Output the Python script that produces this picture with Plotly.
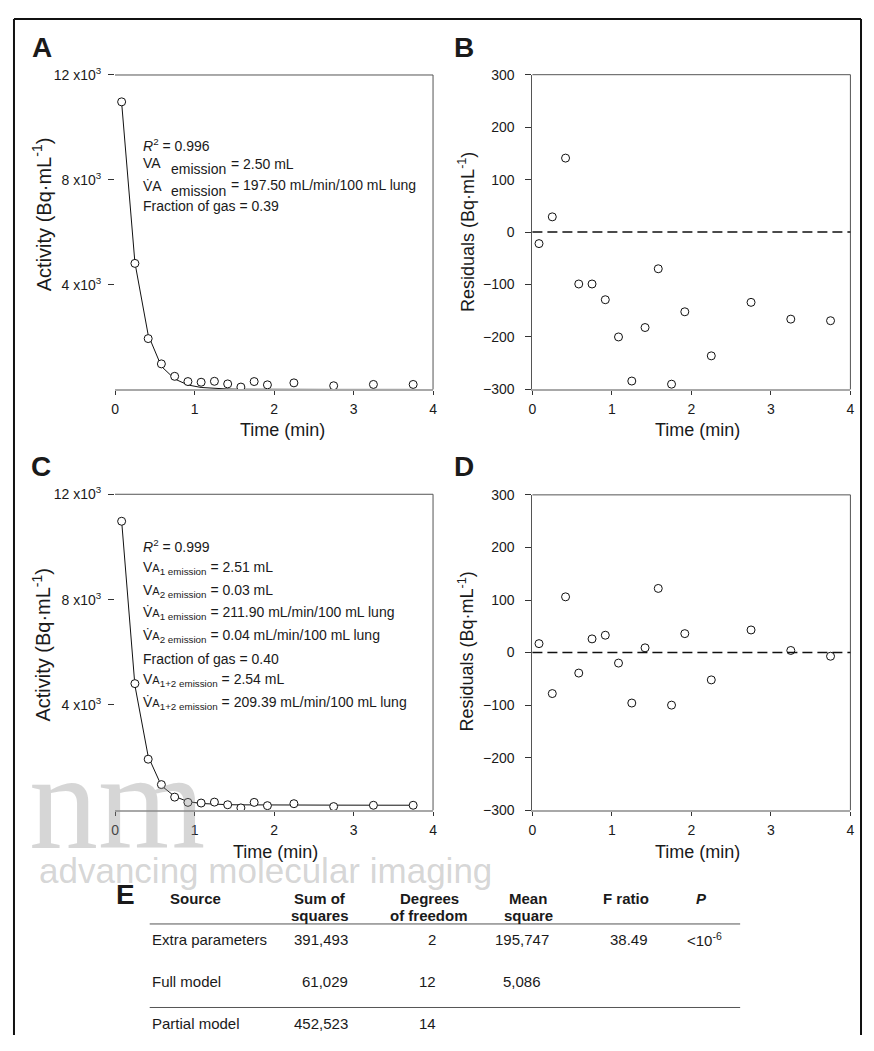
import plotly.graph_objects as go

# The page body keeps its default 8px margin, so the figure is made 16px
# smaller than the window and reference-pixel positions are shifted by it.
PAGE_W, PAGE_H = 874, 1051
OFF = 8
W, H = PAGE_W - 2 * OFF, PAGE_H - 2 * OFF
FONT = "Liberation Sans, Arial, sans-serif"
TXT = "#1a1a1a"

# ---------------- data ----------------
time_min = [0.083, 0.25, 0.417, 0.583, 0.75, 0.917, 1.083, 1.25, 1.417, 1.583,
            1.75, 1.917, 2.25, 2.75, 3.25, 3.75]
activity = [10975, 4810, 1940, 975, 500, 300, 275, 310, 210, 90,
            300, 175, 250, 140, 190, 190]
fit_mono = [10950, 4840, 2080, 880, 400, 170, 75, 33, 15, 7, 3, 1, 0, 0, 0, 0]
fit_bi = [10990, 4740, 2045, 935, 525, 330, 258, 225, 212, 206,
          202, 200, 198, 195, 193, 192]
resid_mono = [-22, 29, 141, -99, -99, -129, -200, -284, -182, -70,
              -290, -152, -236, -134, -166, -169]
resid_bi = [17, -78, 106, -39, 26, 33, -20, -96, 9, 122,
            -100, 36, -52, 43, 4, -7]

x_ticks = [0, 1, 2, 3, 4]
act_ticks = [4000, 8000, 12000]
act_ticktext = ["4 x10<sup>3</sup>", "8 x10<sup>3</sup>", "12 x10<sup>3</sup>"]
res_ticks = [-300, -200, -100, 0, 100, 200, 300]

tbl_header = [["Source"], ["Sum of", "squares"], ["Degrees", "of freedom"],
              ["Mean", "square"], ["F ratio"], ["<i>P</i>"]]
tbl_source = ["Extra parameters", "Full model", "Partial model"]
tbl_ss = ["391,493", "61,029", "452,523"]
tbl_df = ["2", "12", "14"]
tbl_ms = ["195,747", "5,086", ""]
tbl_f = ["38.49", "", ""]
tbl_p = ["<10<sup>-6</sup>", "", ""]


def px(x):
    return (x - OFF) / W


def py(y):
    return 1 - (y - OFF) / H


fig = go.Figure()

panels = {
    "A": dict(x=(112, 433), y=(66, 386)),
    "B": dict(x=(533.3, 854.3), y=(65.7, 386)),
    "C": dict(x=(112, 433), y=(492.7, 814.3)),
    "D": dict(x=(533.3, 854.3), y=(493.3, 814.3)),
}
suffix = {"A": "", "B": "2", "C": "3", "D": "4"}

marker = dict(symbol="circle", size=8, color="white",
              line=dict(color="#111", width=1))

fig.add_trace(go.Scatter(x=time_min, y=fit_mono, mode="lines",
                         line=dict(color="#111", width=1), xaxis="x", yaxis="y"))
fig.add_trace(go.Scatter(x=time_min, y=activity, mode="markers", marker=marker,
                         xaxis="x", yaxis="y"))
fig.add_trace(go.Scatter(x=time_min, y=resid_mono, mode="markers", marker=marker,
                         xaxis="x2", yaxis="y2"))
fig.add_trace(go.Scatter(x=time_min, y=fit_bi, mode="lines",
                         line=dict(color="#111", width=1), xaxis="x3", yaxis="y3"))
fig.add_trace(go.Scatter(x=time_min, y=activity, mode="markers", marker=marker,
                         xaxis="x3", yaxis="y3"))
fig.add_trace(go.Scatter(x=time_min, y=resid_bi, mode="markers", marker=marker,
                         xaxis="x4", yaxis="y4"))

layout = dict(
    width=W, height=H, autosize=False,
    margin=dict(l=0, r=0, t=0, b=0),
    paper_bgcolor="white", plot_bgcolor="white",
    showlegend=False,
    font=dict(family=FONT, color=TXT, size=14),
)

for name, g in panels.items():
    s = suffix[name]
    xa = dict(domain=[px(g["x"][0]), px(g["x"][1])], range=[0, 4],
              tickvals=x_ticks, ticks="outside", ticklen=4, tickcolor="#333",
              showline=True, linecolor="#a8a8a8", linewidth=2,
              showgrid=False, zeroline=False, anchor="y" + s,
              tickfont=dict(size=14, color=TXT), ticklabelstandoff=2)
    if name in ("A", "C"):
        ya = dict(domain=[py(g["y"][1]), py(g["y"][0])], range=[0, 12000],
                  tickvals=act_ticks, ticktext=act_ticktext, ticks="outside",
                  ticklen=6, tickcolor="#333", showline=False,
                  showgrid=False, zeroline=False, anchor="x" + s,
                  tickfont=dict(size=14, color=TXT), ticklabelstandoff=4)
    else:
        ya = dict(domain=[py(g["y"][1]), py(g["y"][0])], range=[-300, 300],
                  tickvals=res_ticks, ticks="outside", ticklen=6,
                  tickcolor="#333", showline=True, linecolor="#555",
                  linewidth=1, showgrid=False, zeroline=False, anchor="x" + s,
                  tickfont=dict(size=14, color=TXT), ticklabelstandoff=8)
    layout["xaxis" + s] = xa
    layout["yaxis" + s] = ya

shapes = []
for name in panels:
    s = suffix[name]
    xr, yr = "x" + s + " domain", "y" + s + " domain"
    shapes.append(dict(type="line", xref=xr, yref=yr, x0=0, x1=1, y0=1, y1=1,
                       line=dict(color="#555", width=1)))
    shapes.append(dict(type="line", xref=xr, yref=yr, x0=1, x1=1, y0=0, y1=1,
                       line=dict(color="#555", width=1)))
for s in ("2", "4"):
    shapes.append(dict(type="line", xref="x" + s + " domain", yref="y" + s,
                       x0=0, x1=1, y0=0, y1=0,
                       line=dict(color="#111", width=1.5, dash="10px,5px")))
for yy in (930, 1015):
    shapes.append(dict(type="line", xref="paper", yref="paper",
                       x0=px(147), x1=px(743), y0=py(yy), y1=py(yy),
                       line=dict(color="#555", width=1)))
# outer frame: left, top, right (kept inside the figure)
frame = dict(color="#111", width=2)
shapes.append(dict(type="line", xref="paper", yref="paper",
                   x0=px(10), x1=px(10), y0=0, y1=py(9), line=frame))
shapes.append(dict(type="line", xref="paper", yref="paper",
                   x0=px(10), x1=px(865), y0=py(9), y1=py(9), line=frame))
shapes.append(dict(type="line", xref="paper", yref="paper",
                   x0=px(865), x1=px(865), y0=0, y1=py(9), line=frame))
layout["shapes"] = shapes

ann = []


def A(text, x, y, size=14, xanchor="left", yanchor="middle", angle=0,
      color=TXT, family=FONT):
    ann.append(dict(text=text, x=px(x), y=py(y), xref="paper", yref="paper",
                    xanchor=xanchor, yanchor=yanchor, showarrow=False,
                    textangle=angle, font=dict(size=size, color=color,
                                               family=family)))


# faint publisher watermark seen behind the figure
A("nm", 114, 805, size=138, xanchor="center",
  color="rgba(140,140,140,0.36)", family="Liberation Serif, serif")
A("advancing molecular imaging", 264, 876, size=35, xanchor="center",
  color="rgba(150,150,150,0.40)")

for letter, (lx, ly) in {"A": (26, 38), "B": (452, 38), "C": (25, 464),
                         "D": (452, 464), "E": (111, 900)}.items():
    A("<b>%s</b>" % letter, lx, ly, size=28)

for cx, cy in ((281, 427), (700, 427), (274, 857), (700, 857)):
    A("Time (min)", cx, cy, size=18, xanchor="center")
A("Activity (Bq·mL<sup>-1</sup>)", 38, 208, size=20, xanchor="center", angle=-90)
A("Activity (Bq·mL<sup>-1</sup>)", 38, 646, size=20, xanchor="center", angle=-90)
A("Residuals (Bq·mL<sup>-1</sup>)", 467, 226, size=18, xanchor="center", angle=-90)
A("Residuals (Bq·mL<sup>-1</sup>)", 467, 653, size=18, xanchor="center", angle=-90)

A("<i>R</i><sup>2</sup> = 0.996", 138, 137)
A("VA", 138, 156)
A("emission", 166, 162)
A("= 2.50 mL", 227, 157)
A("V\u0307A", 138, 179)
A("emission", 166, 184)
A("= 197.50 mL/min/100 mL lung", 227, 178)
A("Fraction of gas = 0.39", 138, 199)

sa = "<span style='font-size:11px'>A</span>"
A("<i>R</i><sup>2</sup> = 0.999", 138, 545)
A("V" + sa + "<sub>1 emission</sub> = 2.51 mL", 138, 568)
A("V" + sa + "<sub>2 emission</sub> = 0.03 mL", 138, 591)
A("V\u0307" + sa + "<sub>1 emission</sub> = 211.90 mL/min/100 mL lung", 138, 614)
A("V\u0307" + sa + "<sub>2 emission</sub> = 0.04 mL/min/100 mL lung", 138, 637)
A("Fraction of gas = 0.40", 138, 660)
A("V" + sa + "<sub>1+2 emission</sub> = 2.54 mL", 138, 682)
A("V\u0307" + sa + "<sub>1+2 emission</sub> = 209.39 mL/min/100 mL lung", 138, 705)

hdr_x = [193, 319, 429, 529, 628, 704]
for parts, hx in zip(tbl_header, hdr_x):
    A("<b>%s</b>" % parts[0], hx, 904, size=15, xanchor="center")
    if len(parts) > 1:
        A("<b>%s</b>" % parts[1], hx, 921, size=15, xanchor="center")

row_y = [946, 989, 1031]
for i, yy in enumerate(row_y):
    A(tbl_source[i], 147, yy, size=15)
    A(tbl_ss[i], 349, yy, size=15, xanchor="right")
    A(tbl_df[i], 438, yy, size=15, xanchor="right")
    if tbl_ms[i]:
        A(tbl_ms[i], 523, yy, size=15, xanchor="center")
    if tbl_f[i]:
        A(tbl_f[i], 631, yy, size=15, xanchor="center")
    if tbl_p[i]:
        A(tbl_p[i], 687, yy, size=15)

layout["annotations"] = ann
fig.update_layout(**layout)
fig.write_html("out.html")
